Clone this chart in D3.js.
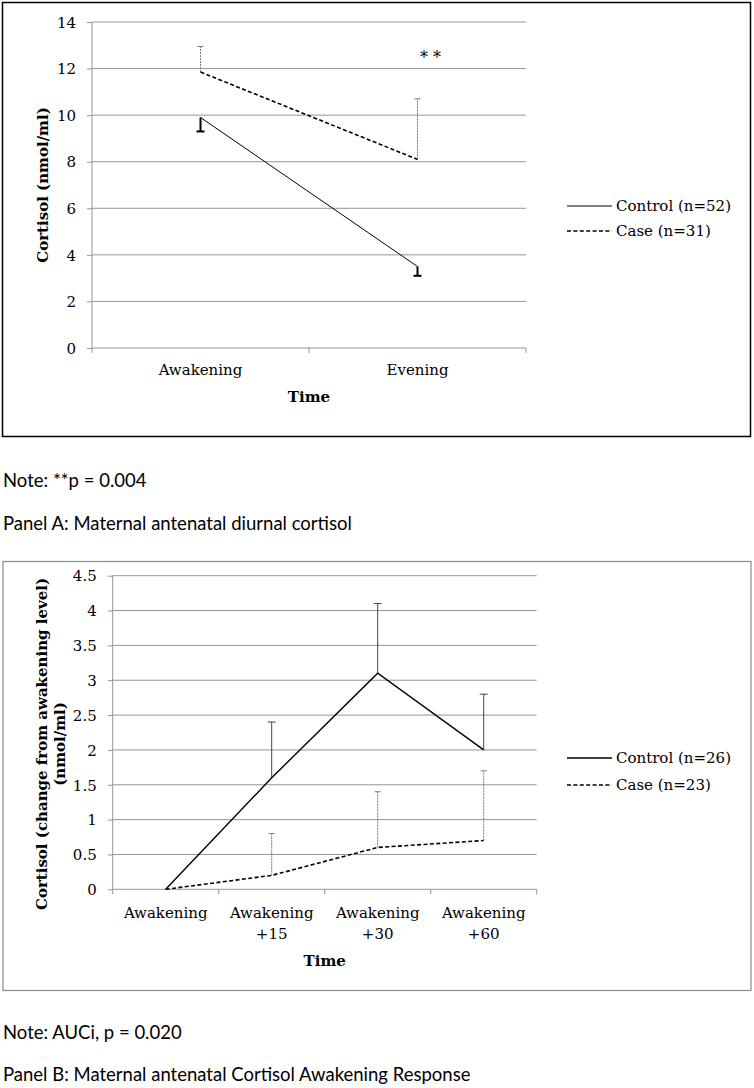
<!DOCTYPE html>
<html lang="en">
<head>
  <meta charset="utf-8">
  <title>Maternal cortisol</title>
  <script src="https://d3js.org/d3.v7.min.js" charset="utf-8"></script>
  <style>
    body { margin: 0; background: #fff; }
    .tick text, .lab { font-family: "DejaVu Serif", serif; font-size: 15px; fill: #000; }
    .title { font-family: "DejaVu Serif", serif; font-size: 15px; font-weight: bold; }
    .note { font-family: Lato, "Open Sans", sans-serif; font-size: 18.5px; fill: #000; }
  </style>
</head>
<body>
<script>
// Panel A
var timesA = ["Awakening", "Evening"];
var controlA = [9.9, 3.5];
var controlErrA = [0.6, 0.4];   // drawn downward
var caseA = [11.85, 8.1];
var caseErrA = [1.1, 2.6];      // drawn upward
var ticksA = [0, 2, 4, 6, 8, 10, 12, 14];

// Panel B
var timesB = [["Awakening"], ["Awakening", "+15"], ["Awakening", "+30"], ["Awakening", "+60"]];
var controlB = [0, 1.6, 3.1, 2.0];
var controlErrB = [0, 0.8, 1.0, 0.8];
var caseB = [0, 0.2, 0.6, 0.7];
var caseErrB = [0, 0.6, 0.8, 1.0];
var ticksB = [0, 0.5, 1, 1.5, 2, 2.5, 3, 3.5, 4, 4.5];

var svg = d3.select("body").append("svg")
  .attr("width", 754)
  .attr("height", 1088);

function drawPanel(p) {
  var g = svg.append("g");

  // frame
  g.append("rect")
    .attr("x", p.box[0]).attr("y", p.box[1])
    .attr("width", p.box[2]).attr("height", p.box[3])
    .attr("fill", "none")
    .attr("stroke", p.boxColor)
    .attr("stroke-width", p.boxWidth);

  var x = d3.scaleBand()
    .domain(d3.range(p.cats.length))
    .range([p.left, p.right]);
  var y = d3.scaleLinear()
    .domain([0, d3.max(p.ticks)])
    .range([p.bottom, p.top]);
  var cx = function (i) { return x(i) + x.bandwidth() / 2; };

  // gridlines
  g.append("g").selectAll("line")
    .data(p.ticks.slice(1))
    .enter().append("line")
    .attr("x1", p.left).attr("x2", p.right)
    .attr("y1", function (d) { return y(d); })
    .attr("y2", function (d) { return y(d); })
    .attr("stroke", "#959595");

  // y axis
  var ya = g.append("g")
    .attr("transform", "translate(" + p.left + ",0)")
    .call(d3.axisLeft(y).tickValues(p.ticks).tickSize(5).tickPadding(11).tickFormat(d3.format("")));
  ya.selectAll("line, path").attr("stroke", "#959595");
  ya.select(".domain").attr("d", "M0," + p.top + "V" + p.bottom);
  ya.selectAll("text").attr("class", "lab").attr("dy", "0.35em");

  // x axis, ticks at band edges
  var xa = g.append("g");
  xa.append("line")
    .attr("x1", p.left).attr("x2", p.right)
    .attr("y1", p.bottom).attr("y2", p.bottom)
    .attr("stroke", "#959595");
  xa.selectAll(".xt")
    .data(d3.range(p.cats.length + 1))
    .enter().append("line")
    .attr("x1", function (i) { return i < p.cats.length ? x(i) : p.right; })
    .attr("x2", function (i) { return i < p.cats.length ? x(i) : p.right; })
    .attr("y1", p.bottom).attr("y2", p.bottom + 5)
    .attr("stroke", "#959595");
  xa.selectAll(".xl")
    .data(p.cats)
    .enter().append("text")
    .attr("class", "lab")
    .attr("text-anchor", "middle")
    .attr("transform", function (d, i) { return "translate(" + cx(i) + "," + (p.bottom + p.labelGap) + ")"; })
    .selectAll("tspan")
    .data(function (d) { return [].concat(d); })
    .enter().append("tspan")
    .attr("x", 0)
    .attr("y", function (d, j) { return j * 21; })
    .attr("dy", "0.35em")
    .text(function (d) { return d; });

  // axis titles
  g.append("text").attr("class", "title")
    .attr("x", (p.left + p.right) / 2).attr("y", p.bottom + p.timeGap)
    .attr("dy", "0.35em").attr("text-anchor", "middle")
    .text("Time");
  p.yTitle.forEach(function (t, j) {
    g.append("text").attr("class", "title")
      .attr("text-anchor", "middle")
      .attr("transform", "translate(" + p.yTitleX[j] + "," + p.yTitleY + ") rotate(-90)")
      .attr("dy", "0.35em")
      .text(t);
  });

  // error bars
  function errBars(vals, errs, dir, style) {
    var eg = g.append("g");
    vals.forEach(function (v, i) {
      if (!errs[i]) return;
      var y0 = y(v), y1 = y(v + dir * errs[i]);
      eg.append("line")
        .attr("x1", cx(i)).attr("x2", cx(i))
        .attr("y1", y0).attr("y2", y1)
        .attr("stroke", style.color).attr("stroke-width", style.width)
        .attr("stroke-dasharray", style.dash);
      eg.append("line")
        .attr("x1", cx(i) - style.cap).attr("x2", cx(i) + style.cap)
        .attr("y1", y1).attr("y2", y1)
        .attr("stroke", style.color).attr("stroke-width", style.width);
    });
  }
  errBars(p.control, p.controlErr, p.controlDir, p.controlErrStyle);
  errBars(p.caseV, p.caseErr, 1, { color: "#777", width: 1, dash: "2,1", cap: 3 });

  // series lines
  var line = d3.line()
    .x(function (d, i) { return cx(i); })
    .y(function (d) { return y(d); });
  g.append("path").datum(p.control)
    .attr("d", line).attr("fill", "none")
    .attr("stroke", "#000").attr("stroke-width", p.controlWidth);
  g.append("path").datum(p.caseV)
    .attr("d", line).attr("fill", "none")
    .attr("stroke", "#000").attr("stroke-width", 1.6)
    .attr("stroke-dasharray", "4,2.4");

  // legend
  var lg = g.append("g").attr("transform", "translate(567," + p.legendY + ")");
  lg.append("line").attr("x1", 0).attr("x2", 45).attr("y1", 0).attr("y2", 0)
    .attr("stroke", "#000").attr("stroke-width", p.controlWidth);
  lg.append("text").attr("class", "lab").attr("x", 49).attr("dy", "0.35em").text(p.legend[0]);
  lg.append("line").attr("x1", 0).attr("x2", 45).attr("y1", p.legendStep).attr("y2", p.legendStep)
    .attr("stroke", "#000").attr("stroke-width", 1.6).attr("stroke-dasharray", "4,2.4");
  lg.append("text").attr("class", "lab").attr("x", 49).attr("y", p.legendStep).attr("dy", "0.35em").text(p.legend[1]);

  return { x: cx, y: y, g: g };
}

var a = drawPanel({
  box: [2.5, 2.5, 748, 434], boxColor: "#000", boxWidth: 1.5,
  cats: timesA, ticks: ticksA,
  left: 92, right: 526, top: 22, bottom: 348,
  labelGap: 22, timeGap: 49,
  yTitle: ["Cortisol (nmol/ml)"], yTitleX: [43], yTitleY: 185,
  control: controlA, controlErr: controlErrA, controlDir: -1,
  controlErrStyle: { color: "#000", width: 2, dash: null, cap: 4 },
  controlWidth: 1,
  caseV: caseA, caseErr: caseErrA,
  legend: ["Control (n=52)", "Case (n=31)"], legendY: 206, legendStep: 25
});

// significance marker
a.g.append("text").attr("class", "lab")
  .attr("x", a.x(1) + 13).attr("y", a.y(12.5))
  .attr("dy", "0.35em").attr("text-anchor", "middle")
  .style("font-size", "16px")
  .text("* *");

drawPanel({
  box: [3, 561.5, 748, 429], boxColor: "#8a8a8a", boxWidth: 1.2,
  cats: timesB, ticks: ticksB,
  left: 112.7, right: 536.7, top: 575.7, bottom: 889.3,
  labelGap: 23.5, timeGap: 71,
  yTitle: ["Cortisol (change from awakening level)", "(nmol/ml)"], yTitleX: [42, 60], yTitleY: 744,
  control: controlB, controlErr: controlErrB, controlDir: 1,
  controlErrStyle: { color: "#444", width: 1, dash: null, cap: 4 },
  controlWidth: 1.4,
  caseV: caseB, caseErr: caseErrB,
  legend: ["Control (n=26)", "Case (n=23)"], legendY: 758, legendStep: 27
});

// notes under the panels
var notes = [
  { text: "Note: **p = 0.004", y: 481 },
  { text: "Panel A: Maternal antenatal diurnal cortisol", y: 524 },
  { text: "Note: AUCi, p = 0.020", y: 1033 },
  { text: "Panel B: Maternal antenatal Cortisol Awakening Response", y: 1075 }
];
svg.selectAll(".note")
  .data(notes)
  .enter().append("text")
  .attr("class", "note")
  .attr("x", 3).attr("y", function (d) { return d.y; })
  .attr("dy", "0.35em")
  .text(function (d) { return d.text; });
</script>
</body>
</html>
